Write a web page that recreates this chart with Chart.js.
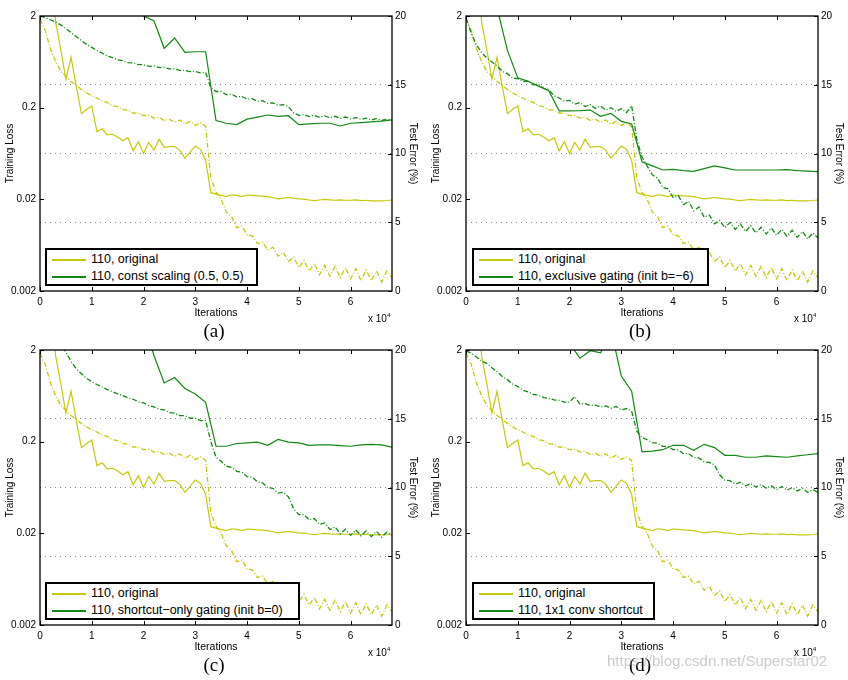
<!DOCTYPE html>
<html>
<head>
<meta charset="utf-8">
<script src="https://cdn.jsdelivr.net/npm/chart.js@4.4.0/dist/chart.umd.min.js"></script>
<style>
  body { margin: 0; background: #fff; width: 848px; height: 680px; overflow: hidden; position: relative;
         font-family: "Liberation Sans", Arial, sans-serif; }
  .panel { position: absolute; width: 422px; height: 334px; }
  .panel canvas { position: absolute; left: 0; top: 0; }
  .legend { position: absolute; background: #fff; border: 2px solid #000; box-sizing: border-box;
            font-size: 12.5px; line-height: 17px; padding: 1px 0 0 5px; }
  .legend .row { display: flex; align-items: center; white-space: nowrap; }
  .legend .swatch { display: inline-block; width: 34px; height: 2px; margin-right: 5px; }
  .mult { position: absolute; font-size: 10px; left: 368px; top: 312px; }
  .mult sup { font-size: 6px; vertical-align: 5px; }
  .cap { position: absolute; top: 320px; left: 214px; transform: translateX(-50%);
         font-family: "Liberation Serif", "Times New Roman", serif; font-size: 19px; line-height: 22px; }
  .mark { position: absolute; left: 607px; top: 652px; font-size: 15px; color: rgba(160,160,160,0.55); }
</style>
</head>
<body>
<script>
// x values in thousands of iterations
const iterK = [0,1,2,3,4,5,6,7,8,9,10,11,12,13,14,15,16,17,18,19,20,21,22,23,24,25,26,27,28,29,30,31,32,33,34,
  35,36,37,38,39,40,41,42,43,44,45,46,47,48,49,50,51,52,53,54,55,56,57,58,59,60,61,62,63,64,65,66,67,68];
const testIterK = [0,2,4,6,8,10,12,14,16,18,20,22,24,26,28,30,32,34,36,38,40,42,44,46,48,50,52,54,56,58,60,62,64,66,68];

const iterTicks = [0,10,20,30,40,50,60];
const lossTicks = [0.002,0.02,0.2,2];
const errorTicks = [0,5,10,15,20];

// 110, original (same in every panel)
const origTest = [60,40,26,19.6,17.6,15.4,17.0,14.9,12.9,13.2, 13.45,11.6,11.8,11.35,11.4,11.2,10.93,11.15,10.2,10.86,
  10.0,10.8,10.25,11.03,10.45,10.5,10.5,10.25,9.65,10.1, 10.55,10.3,9.5,7.15,7.05,6.95,6.86,7.0,6.95,6.86,
  6.98,6.95,6.92,6.9,6.86,6.78,6.7,6.75,6.8,6.75, 6.7,6.68,6.62,6.57,6.62,6.67,6.63,6.6,6.62,6.6,
  6.6,6.62,6.58,6.6,6.55,6.56,6.55,6.58,6.62];
const origTrain = [1.85,1.40,0.88,0.64,0.50,0.44,0.385,0.35,0.315,0.29, 0.27,0.255,0.236,0.228,0.21,0.205,0.19,0.188,0.175,0.174,
  0.164,0.165,0.154,0.157,0.145,0.15,0.138,0.147,0.132,0.142, 0.128,0.137,0.125,0.034,0.024,0.02,0.0145,0.013,0.0098,0.0102,
  0.0082,0.0080,0.0066,0.0068,0.0056,0.0060,0.0048,0.0053,0.0042,0.0047, 0.0036,0.0043,0.0033,0.0040,0.0030,0.0038,0.0029,0.0037,0.0028,0.0036,
  0.0027,0.0035,0.0026,0.0034,0.0026,0.0033,0.0025,0.0033,0.0028];

// (a) const scaling (0.5, 0.5)
const constTest = [80,60,50,42,36,32,29,26.5,24,22, 20.0,19.65,17.65,18.4,17.35,17.4,17.4,12.4,12.2,12.1,
  12.5,12.65,12.8,12.7,12.75,12.1,12.15,12.2,12.2,12.0, 12.2,12.25,12.3,12.35,12.44];
const constTrain = [2.0,1.92,1.82,1.72,1.6,1.46,1.32,1.19,1.08,0.98, 0.91,0.84,0.79,0.73,0.705,0.665,0.65,0.62,0.615,0.59,
  0.59,0.565,0.57,0.548,0.55,0.53,0.532,0.51,0.512,0.495, 0.497,0.48,0.485,0.33,0.30,0.30,0.278,0.28,0.262,0.265,
  0.248,0.25,0.235,0.238,0.222,0.226,0.212,0.216,0.205,0.175, 0.165,0.168,0.16,0.165,0.157,0.163,0.155,0.161,0.153,0.158,
  0.151,0.156,0.149,0.154,0.147,0.152,0.145,0.149,0.146];

// (b) exclusive gating (init b=-6)
const exclTest = [60,40,27,20.6,17.5,15.5,15.25,14.9,14.57,13.1, 13.1,13.12,13.16,12.7,12.92,12.34,12.15,9.4,9.1,8.8,
  8.85,8.75,8.7,8.9,9.1,8.95,8.8,8.8,8.8,8.8, 8.8,8.82,8.75,8.72,8.68];
const exclTrain = [1.9,1.3,0.97,0.80,0.70,0.63,0.57,0.5,0.47,0.42, 0.415,0.385,0.39,0.355,0.36,0.325,0.315,0.27,0.255,0.235,
  0.24,0.218,0.228,0.206,0.216,0.196,0.208,0.188,0.2,0.182, 0.195,0.176,0.21,0.09,0.058,0.046,0.037,0.034,0.027,0.026,
  0.021,0.022,0.0175,0.019,0.015,0.0165,0.0128,0.0135,0.0108,0.0118, 0.0098,0.0112,0.0094,0.0108,0.0089,0.0103,0.0086,0.0099,0.0084,0.0097,
  0.0081,0.0094,0.0079,0.0092,0.0077,0.0089,0.0074,0.0086,0.0076];

// (c) shortcut-only gating (init b=0)
const shortTest = [90,70,55,45,38,33,30,27,25,23.5, 22.3,19.6,17.6,18.0,17.2,16.8,16.2,13.0,13.0,13.2,
  13.25,13.3,13.07,13.5,13.3,13.25,13.07,13.1,13.1,13.05, 13.0,13.1,13.14,13.1,12.94];
const shortTrain = [3.5,3.2,2.9,2.6,2.3,1.9,1.5,1.25,1.1,0.98, 0.9,0.84,0.79,0.74,0.7,0.665,0.635,0.6,0.58,0.545,
  0.53,0.495,0.48,0.452,0.445,0.415,0.41,0.385,0.384,0.36, 0.36,0.34,0.34,0.2,0.135,0.122,0.108,0.105,0.095,0.093,
  0.083,0.082,0.073,0.071,0.063,0.062,0.055,0.056,0.05,0.037, 0.032,0.032,0.028,0.029,0.025,0.026,0.022,0.0235,0.0198,0.0222,
  0.019,0.0218,0.0188,0.0212,0.0184,0.021,0.0182,0.0206,0.019];

// (d) 1x1 conv shortcut
const convTest = [90,70,55,45,38,33,30,27.5,25.5,23.5, 20.5,19.4,19.95,19.8,21.5,18.1,17.0,12.6,12.65,12.75,
  13.07,13.07,12.7,13.14,12.9,12.34,12.34,12.2,12.2,12.3, 12.25,12.2,12.3,12.38,12.46];
const convTrain = [1.95,1.85,1.68,1.52,1.43,1.28,1.16,1.03,0.95,0.85, 0.8,0.73,0.7,0.655,0.64,0.605,0.595,0.57,0.565,0.54,
  0.54,0.62,0.515,0.52,0.495,0.5,0.478,0.49,0.462,0.485, 0.445,0.46,0.43,0.26,0.222,0.21,0.195,0.192,0.178,0.178,
  0.164,0.163,0.148,0.148,0.134,0.133,0.12,0.119,0.112,0.087, 0.076,0.075,0.069,0.072,0.066,0.07,0.064,0.068,0.062,0.066,
  0.06,0.065,0.059,0.063,0.058,0.062,0.056,0.06,0.056];

const origLabel = '110, original';
const panelLabels = ['110, const scaling (0.5, 0.5)', '110, exclusive gating (init b=\u22126)',
  '110, shortcut\u2212only gating (init b=0)', '110, 1x1 conv shortcut'];
const captions = ['(a)', '(b)', '(c)', '(d)'];

const YELLOW = 'rgb(200,200,10)';
const GREEN = 'rgb(20,136,20)';

const panels = [
  { left: 0,   top: 0,   legendLeft: 45, legendWidth: 213, test: constTest, train: constTrain },
  { left: 426, top: 0,   legendLeft: 46, legendWidth: 237, test: exclTest,  train: exclTrain },
  { left: 0,   top: 334, legendLeft: 45, legendWidth: 255, test: shortTest, train: shortTrain },
  { left: 426, top: 334, legendLeft: 46, legendWidth: 183, test: convTest,  train: convTrain }
];

const pts = (xs, ys) => xs.map((x, i) => ({ x: x, y: ys[i] }));

// black box around the plot with inward tick marks (matlab style)
const framePlugin = {
  id: 'frame',
  afterDatasetsDraw(chart) {
    const { ctx, chartArea: a, scales } = chart;
    ctx.save();
    ctx.strokeStyle = '#000';
    ctx.lineWidth = 1.3;
    ctx.strokeRect(a.left, a.top, a.right - a.left, a.bottom - a.top);
    ctx.lineWidth = 1;
    ctx.beginPath();
    iterTicks.forEach(v => {
      const x = Math.round(scales.x.getPixelForValue(v)) + 0.5;
      ctx.moveTo(x, a.bottom); ctx.lineTo(x, a.bottom - 4);
      ctx.moveTo(x, a.top); ctx.lineTo(x, a.top + 4);
    });
    lossTicks.forEach(v => {
      const y = Math.round(scales.yL.getPixelForValue(v)) + 0.5;
      ctx.moveTo(a.left, y); ctx.lineTo(a.left + 4, y);
    });
    errorTicks.forEach(v => {
      const y = Math.round(scales.yR.getPixelForValue(v)) + 0.5;
      ctx.moveTo(a.right, y); ctx.lineTo(a.right - 4, y);
    });
    ctx.stroke();
    ctx.restore();
  }
};

const tickFont = { family: '"Liberation Sans", Arial, sans-serif', size: 10 };

function makeChart(canvas, p) {
  return new Chart(canvas, {
    type: 'line',
    data: {
      datasets: [
        { data: pts(testIterK, p.test), yAxisID: 'yR', borderColor: GREEN, borderWidth: 1.2 },
        { data: pts(iterK, p.train), yAxisID: 'yL', borderColor: GREEN, borderWidth: 1.3, borderDash: [5, 2, 1, 2] },
        { data: pts(iterK, origTest), yAxisID: 'yR', borderColor: YELLOW, borderWidth: 1.2 },
        { data: pts(iterK, origTrain), yAxisID: 'yL', borderColor: YELLOW, borderWidth: 1.3, borderDash: [5, 2, 1, 2] }
      ]
    },
    options: {
      responsive: false,
      animation: false,
      parsing: false,
      layout: { padding: { top: 16, bottom: 15, left: 4, right: 3 } },
      plugins: { legend: { display: false }, tooltip: { enabled: false } },
      elements: { point: { radius: 0 }, line: { tension: 0, fill: false } },
      scales: {
        x: {
          type: 'linear', min: 0, max: 68,
          afterBuildTicks: s => { s.ticks = iterTicks.map(v => ({ value: v })); },
          afterFit: s => { s.height = 28; },
          grid: { display: false, drawTicks: false },
          border: { display: false },
          ticks: { padding: 5, color: '#000', font: tickFont, maxRotation: 0, callback: v => String(v / 10) },
          title: { display: true, text: 'Iterations', color: '#000', font: { size: 10.5 }, padding: 0 }
        },
        yL: {
          type: 'logarithmic', position: 'left', min: 0.002, max: 2,
          afterBuildTicks: s => { s.ticks = lossTicks.map(v => ({ value: v })); },
          afterFit: s => { s.width = 36; },
          grid: { display: false, drawTicks: false },
          border: { display: false },
          ticks: { padding: 4, color: '#000', font: tickFont, callback: v => String(v) },
          title: { display: true, text: 'Training Loss', color: '#000', font: { size: 10 }, padding: 0 }
        },
        yR: {
          type: 'linear', position: 'right', min: 0, max: 20,
          afterBuildTicks: s => { s.ticks = errorTicks.map(v => ({ value: v })); },
          afterFit: s => { s.width = 27; },
          grid: {
            drawTicks: false, lineWidth: 1,
            color: c => (c.tick && c.tick.value > 0 && c.tick.value < 20) ? '#8a8a8a' : 'rgba(0,0,0,0)'
          },
          border: { display: false, dash: [1, 4] },
          ticks: { padding: 3, color: '#000', font: tickFont },
          title: { display: true, text: 'Test Error (%)', color: '#000', font: { size: 10 }, padding: 0 }
        }
      }
    },
    plugins: [framePlugin]
  });
}

panels.forEach((p, i) => {
  const div = document.createElement('div');
  div.className = 'panel';
  div.style.left = p.left + 'px';
  div.style.top = p.top + 'px';
  const canvas = document.createElement('canvas');
  canvas.width = 422; canvas.height = 334;
  div.appendChild(canvas);

  const leg = document.createElement('div');
  leg.className = 'legend';
  leg.style.left = p.legendLeft + 'px';
  leg.style.top = '248px';
  leg.style.width = p.legendWidth + 'px';
  leg.style.height = '38px';
  leg.innerHTML =
    '<div class="row"><span class="swatch" style="background:' + YELLOW + '"></span>' + origLabel + '</div>' +
    '<div class="row"><span class="swatch" style="background:' + GREEN + '"></span>' + panelLabels[i] + '</div>';
  div.appendChild(leg);

  const mult = document.createElement('div');
  mult.className = 'mult';
  mult.innerHTML = 'x 10<sup>4</sup>';
  div.appendChild(mult);

  const cap = document.createElement('div');
  cap.className = 'cap';
  cap.textContent = captions[i];
  div.appendChild(cap);

  document.body.appendChild(div);
  makeChart(canvas, p);
});

const mark = document.createElement('div');
mark.className = 'mark';
mark.textContent = 'https://blog.csdn.net/Superstar02';
document.body.appendChild(mark);
</script>
</body>
</html>
